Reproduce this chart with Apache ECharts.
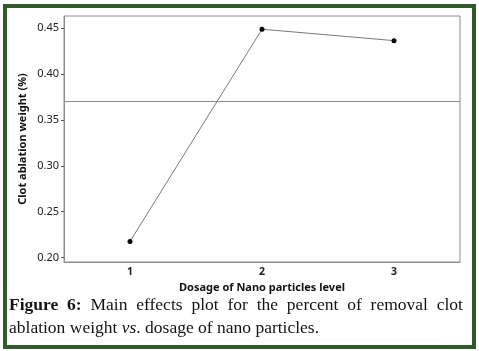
<!DOCTYPE html>
<html>
<head>
<meta charset="utf-8">
<script src="https://cdn.jsdelivr.net/npm/echarts@6/dist/echarts.min.js"></script>
<style>
html,body{margin:0;padding:0;background:#fff;}
#frame{position:absolute;left:3px;top:4px;width:465px;height:337px;border:4px solid #315a2b;}
#chart{position:absolute;left:0;top:0;width:479px;height:351px;}
.cap{position:absolute;left:9px;font-family:"Liberation Serif","DejaVu Serif",serif;font-size:17.5px;color:#141414;white-space:nowrap;line-height:20px;}
#l1{top:294px;width:454px;text-align:justify;text-align-last:justify;white-space:normal;}
#l2{top:317px;}
</style>
</head>
<body>
<div id="chart"></div>
<div id="frame"></div>
<div class="cap" id="l1"><b>Figure 6:</b> Main effects plot for the percent of removal clot</div>
<div class="cap" id="l2">ablation weight <i>vs</i>. dosage of nano particles.</div>
<script>
const categories = ['1', '2', '3'];
const values = [0.2177, 0.4486, 0.4362];
const meanValue = 0.3675;
const yTicks = [0.20, 0.25, 0.30, 0.35, 0.40, 0.45];
const xTitle = 'Dosage of Nano particles level';
const yTitle = 'Clot ablation weight (%)';

const chart = echarts.init(document.getElementById('chart'), null, {renderer: 'canvas'});
const font = '"Noto Sans", "DejaVu Sans", sans-serif';
chart.setOption({
  animation: false,
  backgroundColor: '#fff',
  grid: {left: 64, right: 19, top: 16, bottom: 89, show: true, borderColor: '#8c8c8c', borderWidth: 1},
  xAxis: {
    type: 'category',
    data: categories,
    boundaryGap: true,
    name: xTitle,
    nameLocation: 'middle',
    nameGap: 20,
    nameMoveOverlap: false,
    nameTextStyle: {fontFamily: font, fontWeight: 'bold', fontSize: 11, color: '#111'},
    axisLine: {lineStyle: {color: '#8c8c8c'}},
    axisTick: {alignWithLabel: true, length: 3, lineStyle: {color: '#555'}},
    axisLabel: {fontFamily: font, fontSize: 10.5, fontWeight: 'bold', color: '#222', margin: 5},
    splitLine: {show: false}
  },
  yAxis: {
    type: 'value',
    min: 0.1953,
    max: 0.463,
    name: yTitle,
    nameLocation: 'middle',
    nameGap: 36,
    nameMoveOverlap: false,
    nameTextStyle: {fontFamily: font, fontWeight: 'bold', fontSize: 11, color: '#111'},
    axisLine: {show: true, lineStyle: {color: '#8c8c8c'}},
    axisTick: {show: true, length: 3, customValues: yTicks, lineStyle: {color: '#555'}},
    axisLabel: {fontFamily: font, fontSize: 11, color: '#222', margin: 5, customValues: yTicks,
      formatter: v => v.toFixed(2)},
    splitLine: {show: false}
  },
  series: [{
    type: 'line',
    data: values,
    symbol: 'circle',
    symbolSize: 5,
    lineStyle: {color: '#7a7a7a', width: 1},
    itemStyle: {color: '#000'},
    markLine: {
      silent: true,
      symbol: ['none', 'none'],
      label: {show: false},
      lineStyle: {color: '#8c8c8c', width: 1, type: 'solid'},
      data: [{yAxis: meanValue}]
    }
  }]
});
</script>
</body>
</html>
